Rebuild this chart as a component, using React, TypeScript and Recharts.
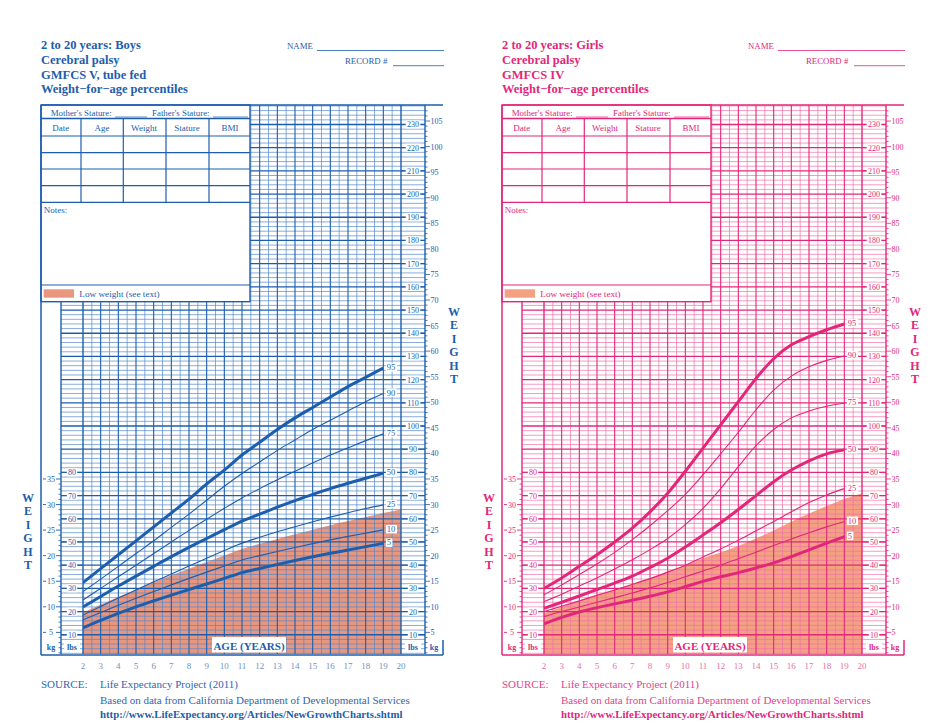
import * as React from 'react';
import { Area, ComposedChart, Line, ReferenceLine, XAxis, YAxis } from 'recharts';

// ages of the percentile curves (they stop at 19) and of the low-weight band (to 20)
const AGES = [2, 3, 4, 5, 6, 7, 8, 9, 10, 11, 12, 13, 14, 15, 16, 17, 18, 19];
const BAND_AGES = [2, 3, 4, 5, 6, 7, 8, 9, 10, 11, 12, 13, 14, 15, 16, 17, 18, 19, 20];
const AGE_TICKS = [2, 3, 4, 5, 6, 7, 8, 9, 10, 11, 12, 13, 14, 15, 16, 17, 18, 19, 20];
const PERCENTILES = ['95', '90', '75', '50', '25', '10', '5'];
const THICK = ['95', '50', '5'];

const LB_TICKS_RIGHT = [10, 20, 30, 40, 50, 60, 70, 80, 90, 100, 110, 120, 130, 140, 150, 160, 170, 180, 190, 200, 210, 220, 230];
const KG_TICKS_RIGHT = [5, 10, 15, 20, 25, 30, 35, 40, 45, 50, 55, 60, 65, 70, 75, 80, 85, 90, 95, 100, 105];
const LB_TICKS_LEFT = [10, 20, 30, 40, 50, 60, 70, 80];
const KG_TICKS_LEFT = [5, 10, 15, 20, 25, 30, 35];

// weights in lbs, ages 2..19
const BOYS_P95 = [32.5, 38.5, 44.5, 50.5, 56.5, 62.5, 68.5, 75, 81, 87.5, 93, 98.5, 103.5, 108, 112.5, 117, 121, 125];
const BOYS_P90 = [28.6, 34, 39.5, 45, 50.5, 56.3, 62, 68, 74, 79.5, 84.5, 89.5, 94, 98.5, 102.5, 106.5, 110.5, 114];
const BOYS_P75 = [25, 30, 35, 40, 45, 50, 55, 59.8, 64.5, 69, 73, 76.8, 80.5, 84, 87.5, 90.6, 93.7, 96.6];
const BOYS_P50 = [22, 26.5, 31, 35.3, 39.5, 43.7, 47.7, 51.5, 55.3, 59, 62, 65, 67.8, 70.5, 73, 75.3, 77.5, 79.6];
const BOYS_P25 = [18.5, 22.2, 25.8, 29.3, 32.8, 36.2, 39.6, 43, 46.3, 49.5, 52, 54.4, 56.6, 58.7, 60.7, 62.6, 64.4, 66];
const BOYS_P10 = [16.4, 19.6, 22.7, 25.7, 28.6, 31.5, 34.3, 37, 39.6, 42.2, 44.1, 45.9, 47.6, 49.3, 50.9, 52.4, 53.8, 55.2];
const BOYS_P5 = [13, 16.2, 19.2, 22, 24.6, 27.1, 29.5, 31.9, 34.3, 36.8, 38.6, 40.3, 42, 43.6, 45.1, 46.5, 48, 49.4];
// low weight band top, ages 2..20
const BOYS_LOW = [19.5, 23, 26.3, 29.5, 32.6, 35.6, 38.5, 41.4, 44.2, 47, 49.2, 51.3, 53.3, 55.3, 57.2, 59, 60.8, 62.5, 64];

const GIRLS_P95 = [30, 34.5, 39.5, 44.5, 50, 56, 63, 71, 80.5, 90.5, 100.5, 110.5, 120.5, 129, 135, 138.5, 141.5, 144];
const GIRLS_P90 = [27.2, 31.5, 36, 40.5, 45.5, 51, 57, 63.5, 70.5, 79, 88, 97.3, 107, 115.5, 121.5, 125.5, 128.3, 130.2];
const GIRLS_P75 = [24.3, 27.5, 31, 34.5, 38.3, 42.3, 46.7, 51.5, 57.5, 64.5, 73, 82.5, 91.5, 98.5, 103.5, 106.5, 108.5, 109.8];
const GIRLS_P50 = [21.4, 24, 26.7, 29.5, 32.3, 35.3, 39, 43, 47.8, 53, 58.3, 64, 70, 76, 81, 85, 88, 89.7];
const GIRLS_P25 = [20, 22.3, 24.6, 27, 29.3, 31.7, 34.2, 37, 40, 43.5, 47, 50.8, 54.8, 58.8, 63, 67, 70.3, 73];
const GIRLS_P10 = [17.8, 20, 22, 24, 26, 28, 30.2, 32.5, 35, 37.5, 40, 42.8, 45.6, 48.5, 51.3, 54, 56.5, 58.8];
const GIRLS_P5 = [14.7, 17.5, 19.8, 21.7, 23.3, 24.9, 26.6, 28.5, 30.7, 33, 35, 36.8, 38.8, 41, 43.7, 46.6, 49.5, 52.3];
const GIRLS_LOW = [19.3, 22, 24.7, 27.3, 29.5, 32, 34.5, 37.3, 40, 43, 45.5, 48.3, 51.5, 55, 58.7, 62.3, 65.5, 68.5, 71];

const BOYS_TITLE = ['2 to 20 years: Boys', 'Cerebral palsy', 'GMFCS V, tube fed', 'Weight\u2212for\u2212age percentiles'];
const GIRLS_TITLE = ['2 to 20 years: Girls', 'Cerebral palsy', 'GMFCS IV', 'Weight\u2212for\u2212age percentiles'];

const SERIF = '"Liberation Serif", "Times New Roman", "DejaVu Serif", serif';

// panel layout (px)
const PW = 470;
const PH = 726;
const FRAME_L = 41;
const KG_L = 61;
const PLOT_L = 83;
const PLOT_R = 401;
const KG_R = 425;
const FRAME_R = 443;
const PLOT_T = 105;
const PLOT_B = 654;
const LB_MIN = 1.7;
const LB_MAX = 238.4;
const LB_PER_KG = 2.20462;

const ageAtPx = (px: number) => 2 + ((px - PLOT_L) * 18) / (PLOT_R - PLOT_L);
const X_COL_L = ageAtPx(KG_L);
const X_COL_R = ageAtPx(KG_R);

const range = (a: number, b: number, step: number) => {
  const out: number[] = [];
  for (let v = a; v <= b + 1e-9; v += step) out.push(Math.round(v * 10) / 10);
  return out;
};
const MINOR_LB = range(2, 238, 2).filter((v) => v % 10 !== 0);
const MAJOR_LB = range(10, 230, 10);
const HALF_YEARS = range(2.5, 19.5, 1);
const YEARS = range(3, 19, 1);

type Theme = { main: string; minor: string; tick: string; band: string; source: string };

const BLUE: Theme = { main: '#1d5eac', minor: '#5688cc', tick: '#7290c2', band: '#e8967e', source: '#2f66b0' };
const PINK: Theme = { main: '#e2277b', minor: '#ef72a8', tick: '#ea6fa3', band: '#f3a083', source: '#e4428a' };

function endLabel(text: string, last: number, color: string) {
  return (props: any) => {
    if (props.value !== last) return null;
    const x = props.x ?? props.viewBox?.x;
    const y = props.y ?? props.viewBox?.y;
    const w = text.length * 4.6 + 2;
    return (
      <g>
        <rect x={x + 2.5} y={y - 5} width={w} height={8.5} fill="#fff" />
        <text x={x + 3.5} y={y + 2} fontSize={8.5} fill={color} fontFamily={SERIF}>
          {text}
        </text>
      </g>
    );
  };
}

function GrowthPanel({
  left,
  theme,
  title,
  series,
  low,
}: {
  left: number;
  theme: Theme;
  title: string[];
  series: number[][];
  low: number[];
}) {
  const data = BAND_AGES.map((age, i) => {
    const row: Record<string, number> = { age, low: low[i] };
    series.forEach((s, k) => {
      if (i < AGES.length) row['p' + PERCENTILES[k]] = s[i];
    });
    return row;
  });

  const lbTick = (cx: number, x1: number, x2: number) => (p: any) => {
    const v = p.payload.value;
    const w = String(v).length * 4.2 + 2;
    return (
      <g>
        <line x1={x1} x2={x2} y1={p.y} y2={p.y} stroke={theme.main} strokeWidth={1} />
        <rect x={cx - w / 2} y={p.y - 4} width={w} height={8} fill="#fff" />
        <text x={cx} y={p.y + 3} textAnchor="middle" fontSize={8} fill={theme.main} fontFamily={SERIF}>
          {v}
        </text>
      </g>
    );
  };

  const kgTickRight = (p: any) => {
    const v = p.payload.value;
    const major = KG_TICKS_RIGHT.includes(v);
    return (
      <g>
        <line x1={KG_R} x2={KG_R + (major ? 5 : 2.5)} y1={p.y} y2={p.y} stroke={theme.main} strokeWidth={0.8} />
        {major && (
          <text x={KG_R + 5.5} y={p.y + 3} fontSize={8} fill={theme.main} fontFamily={SERIF}>
            {v}
          </text>
        )}
      </g>
    );
  };

  const kgTickLeft = (p: any) => {
    const v = p.payload.value;
    const major = KG_TICKS_LEFT.includes(v);
    if (!major)
      return <line x1={KG_L - 2.5} x2={KG_L} y1={p.y} y2={p.y} stroke={theme.main} strokeWidth={0.8} />;
    return (
      <g>
        <line x1={FRAME_L + 2} x2={KG_L} y1={p.y} y2={p.y} stroke={theme.main} strokeWidth={0.9} />
        <rect x={46} y={p.y - 4} width={10} height={8} fill="#fff" />
        <text x={51} y={p.y + 3} textAnchor="middle" fontSize={8} fill={theme.main} fontFamily={SERIF}>
          {v}
        </text>
      </g>
    );
  };

  const kgDomain = [LB_MIN / LB_PER_KG, LB_MAX / LB_PER_KG];
  const kgAll = range(1, 107, 1);
  const kgAllLeft = range(1, 36, 1);

  const t = theme.main;
  const rowLines = [136, 152.7, 169, 185.7, 202.3];
  const colLines = [81, 123.3, 166, 209];
  const heads: [string, number][] = [
    ['Date', 60.7],
    ['Age', 102],
    ['Weight', 144],
    ['Stature', 187],
    ['BMI', 230],
  ];
  const weightStyle: React.CSSProperties = {
    position: 'absolute',
    writingMode: 'vertical-rl',
    textOrientation: 'upright',
    fontFamily: SERIF,
    fontWeight: 'bold',
    fontSize: 12,
    lineHeight: 1,
    letterSpacing: -0.6,
    color: t,
    width: 12,
    pointerEvents: 'none',
  };

  return (
    <div style={{ position: 'absolute', left, top: 0, width: PW, height: PH }}>
      <ComposedChart
        width={PW}
        height={PH}
        data={data}
        margin={{ top: PLOT_T, right: PW - PLOT_R - 2, bottom: PH - PLOT_B - 20, left: PLOT_L - 2 }}
      >
        <XAxis
          dataKey="age"
          type="number"
          domain={[2, 20]}
          allowDataOverflow
          ticks={AGE_TICKS}
          interval={0}
          axisLine={false}
          tickLine={false}
          height={20}
          tickMargin={3}
          tick={{ fontSize: 9, fill: theme.tick, fontFamily: SERIF }}
        />
        <YAxis yAxisId="lb" orientation="right" type="number" domain={[LB_MIN, LB_MAX]} allowDataOverflow width={0} hide />

        <Area
          yAxisId="lb"
          type="monotone"
          dataKey="low"
          baseValue={LB_MIN}
          fill={theme.band}
          fillOpacity={1}
          stroke="none"
          isAnimationActive={false}
          activeDot={false}
        />

        {MINOR_LB.map((v) => (
          <ReferenceLine
            key={'mh' + v}
            yAxisId="lb"
            segment={[
              { x: X_COL_L, y: v },
              { x: X_COL_R, y: v },
            ]}
            stroke={theme.minor}
            strokeWidth={0.7}
            ifOverflow="visible"
          />
        ))}
        {HALF_YEARS.map((a) => (
          <ReferenceLine key={'hv' + a} yAxisId="lb" x={a} stroke={theme.minor} strokeWidth={0.7} ifOverflow="visible" />
        ))}
        {YEARS.map((a) => (
          <ReferenceLine key={'yv' + a} yAxisId="lb" x={a} stroke={t} strokeWidth={1.1} ifOverflow="visible" />
        ))}
        {MAJOR_LB.map((v) => (
          <ReferenceLine
            key={'Mh' + v}
            yAxisId="lb"
            segment={[
              { x: X_COL_L, y: v },
              { x: X_COL_R, y: v },
            ]}
            stroke={t}
            strokeWidth={1.3}
            ifOverflow="visible"
          />
        ))}
        <ReferenceLine yAxisId="lb" x={2} stroke={t} strokeWidth={1.4} ifOverflow="visible" />
        <ReferenceLine yAxisId="lb" x={20} stroke={t} strokeWidth={1.4} ifOverflow="visible" />
        <ReferenceLine yAxisId="lb" x={X_COL_L} stroke={t} strokeWidth={1.4} ifOverflow="visible" />
        <ReferenceLine yAxisId="lb" x={X_COL_R} stroke={t} strokeWidth={1.4} ifOverflow="visible" />

        {PERCENTILES.map((p, k) => (
          <Line
            key={p}
            yAxisId="lb"
            type="monotone"
            dataKey={'p' + p}
            stroke={t}
            strokeWidth={THICK.includes(p) ? 3 : 1.1}
            dot={false}
            activeDot={false}
            isAnimationActive={false}
            label={endLabel(p, series[k][series[k].length - 1], t)}
          />
        ))}

        <YAxis
          yAxisId="lbR"
          orientation="right"
          type="number"
          domain={[LB_MIN, LB_MAX]}
          allowDataOverflow
          width={1}
          ticks={LB_TICKS_RIGHT}
          interval={0}
          axisLine={false}
          tickLine={false}
          tick={lbTick((PLOT_R + KG_R) / 2, PLOT_R, KG_R)}
        />
        <YAxis
          yAxisId="kgR"
          orientation="right"
          type="number"
          domain={kgDomain}
          allowDataOverflow
          width={1}
          ticks={kgAll}
          interval={0}
          axisLine={false}
          tickLine={false}
          tick={kgTickRight}
        />
        <YAxis
          yAxisId="lbL"
          orientation="left"
          type="number"
          domain={[LB_MIN, LB_MAX]}
          allowDataOverflow
          width={1}
          ticks={LB_TICKS_LEFT}
          interval={0}
          axisLine={false}
          tickLine={false}
          tick={lbTick((KG_L + PLOT_L) / 2, KG_L, PLOT_L)}
        />
        <YAxis
          yAxisId="kgL"
          orientation="left"
          type="number"
          domain={kgDomain}
          allowDataOverflow
          width={1}
          ticks={kgAllLeft}
          interval={0}
          axisLine={false}
          tickLine={false}
          tick={kgTickLeft}
        />
      </ComposedChart>

      <svg
        width={PW}
        height={PH}
        style={{ position: 'absolute', left: 0, top: 0, pointerEvents: 'none' }}
        fontFamily={SERIF}
      >
        {title.map((s, i) => (
          <text key={s} x={FRAME_L} y={49 + i * 14.8} fontSize={12.5} fontWeight="bold" fill={t}>
            {s}
          </text>
        ))}
        <text x={287} y={48.5} fontSize={8.8} fill={t}>
          NAME
        </text>
        <line x1={317} x2={444} y1={50.5} y2={50.5} stroke={t} strokeWidth={0.8} />
        <text x={345} y={63.5} fontSize={8.8} fill={t}>
          RECORD #
        </text>
        <line x1={393} x2={444} y1={65.7} y2={65.7} stroke={t} strokeWidth={0.8} />

        {/* record table */}
        <rect x={FRAME_L} y={PLOT_T} width={250 - FRAME_L} height={301.7 - PLOT_T} fill="#fff" stroke={t} strokeWidth={1.4} />
        <text x={50.7} y={116} fontSize={8.9} fill={t}>
          Mother's Stature:
        </text>
        <line x1={115} x2={147} y1={117} y2={117} stroke={t} strokeWidth={0.7} />
        <text x={152} y={116} fontSize={8.9} fill={t}>
          Father's Stature:
        </text>
        <line x1={213} x2={248} y1={117} y2={117} stroke={t} strokeWidth={0.7} />
        <line x1={FRAME_L} x2={250} y1={118.5} y2={118.5} stroke={t} strokeWidth={1.3} />
        {heads.map(([h, x]) => (
          <text key={h} x={x} y={131} fontSize={9} textAnchor="middle" fill={t}>
            {h}
          </text>
        ))}
        {rowLines.map((y) => (
          <line key={'r' + y} x1={FRAME_L} x2={250} y1={y} y2={y} stroke={t} strokeWidth={1.2} />
        ))}
        {colLines.map((x) => (
          <line key={'c' + x} x1={x} x2={x} y1={118.5} y2={202.3} stroke={t} strokeWidth={1.2} />
        ))}
        <text x={43.7} y={212.5} fontSize={9} fill={t}>
          Notes:
        </text>
        <line x1={FRAME_L} x2={250} y1={285} y2={285} stroke={t} strokeWidth={1.2} />
        <rect x={43.7} y={289.3} width={30.3} height={8.4} fill={theme.band} />
        <text x={79.3} y={296.7} fontSize={9.2} fill={t}>
          Low weight (see text)
        </text>

        {/* frame */}
        <line x1={FRAME_L} x2={FRAME_L} y1={PLOT_T} y2={PLOT_B + 1} stroke={t} strokeWidth={1.5} />
        <line x1={FRAME_L} x2={FRAME_R} y1={PLOT_T} y2={PLOT_T} stroke={t} strokeWidth={1.5} />
        <line x1={FRAME_L} x2={FRAME_R} y1={PLOT_B + 1} y2={PLOT_B + 1} stroke={t} strokeWidth={1.5} />
        <line x1={FRAME_R} x2={FRAME_R} y1={640} y2={PLOT_B + 1} stroke={t} strokeWidth={1.5} />

        {/* bottom unit labels */}
        <rect x={44} y={641} width={14} height={11} fill="#fff" />
        <text x={51} y={650} fontSize={8} fontWeight="bold" textAnchor="middle" fill={t}>
          kg
        </text>
        <rect x={64} y={641} width={16} height={11} fill="#fff" />
        <text x={72} y={650} fontSize={8} fontWeight="bold" textAnchor="middle" fill={t}>
          lbs
        </text>
        <rect x={405} y={641} width={16} height={11} fill="#fff" />
        <text x={413} y={650} fontSize={8} fontWeight="bold" textAnchor="middle" fill={t}>
          lbs
        </text>
        <text x={434} y={650} fontSize={8} fontWeight="bold" textAnchor="middle" fill={t}>
          kg
        </text>

        <rect x={212} y={637} width={74} height={15.5} fill="#fff" />
        <text x={249} y={650} fontSize={11} fontWeight="bold" textAnchor="middle" fill={t}>
          AGE (YEARS)
        </text>

        <text x={FRAME_L} y={687.5} fontSize={11} fill={theme.source}>
          SOURCE:
        </text>
        <text x={100} y={687.5} fontSize={11} fill={theme.source}>
          Life Expectancy Project (2011)
        </text>
        <text x={100} y={703.5} fontSize={11} fill={theme.source}>
          Based on data from California Department of Developmental Services
        </text>
        <text x={100} y={717.5} fontSize={10.8} fontWeight="bold" fill={t}>
          http://www.LifeExpectancy.org/Articles/NewGrowthCharts.shtml
        </text>
      </svg>

      <div style={{ ...weightStyle, left: 448, top: 305 }}>WEIGHT</div>
      <div style={{ ...weightStyle, left: 22, top: 491 }}>WEIGHT</div>
    </div>
  );
}

export default function App() {
  return (
    <div
      style={{
        position: 'absolute',
        left: 0,
        top: 0,
        width: 934,
        height: 726,
        background: '#fff',
        overflow: 'hidden',
      }}
    >
      <GrowthPanel
        left={0}
        theme={BLUE}
        title={BOYS_TITLE}
        series={[BOYS_P95, BOYS_P90, BOYS_P75, BOYS_P50, BOYS_P25, BOYS_P10, BOYS_P5]}
        low={BOYS_LOW}
      />
      <GrowthPanel
        left={461}
        theme={PINK}
        title={GIRLS_TITLE}
        series={[GIRLS_P95, GIRLS_P90, GIRLS_P75, GIRLS_P50, GIRLS_P25, GIRLS_P10, GIRLS_P5]}
        low={GIRLS_LOW}
      />
    </div>
  );
}
